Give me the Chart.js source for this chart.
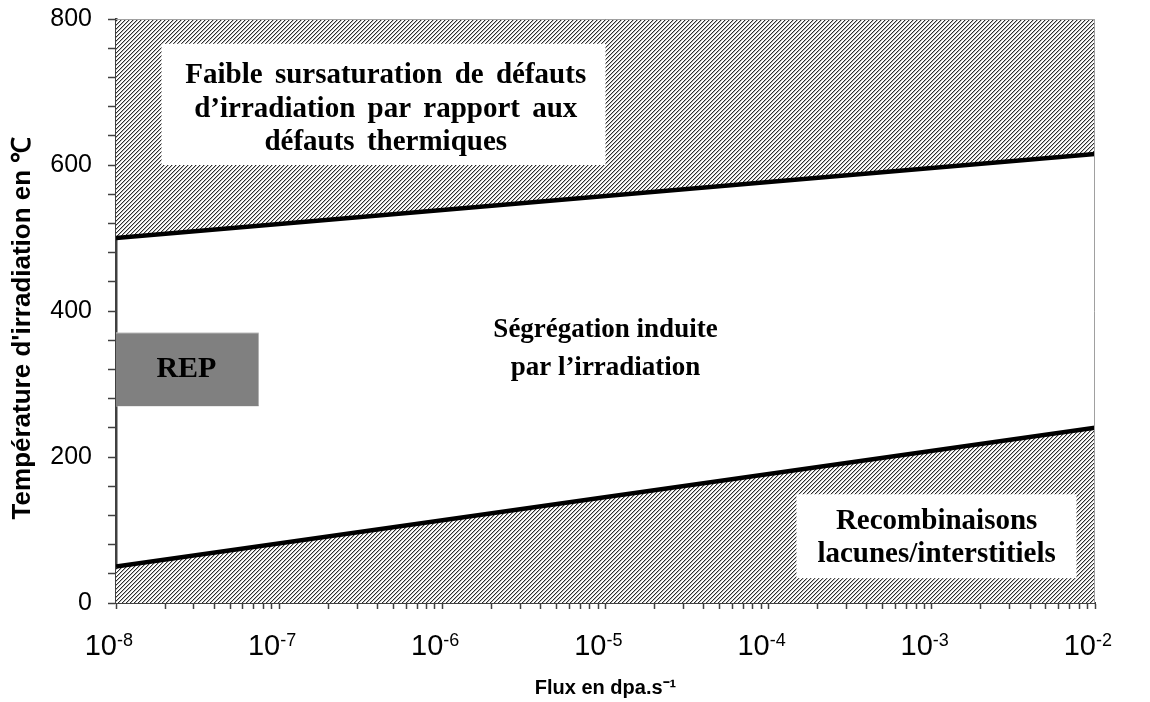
<!DOCTYPE html>
<html><head><meta charset="utf-8">
<script src="https://cdn.jsdelivr.net/npm/chart.js@4.4.1/dist/chart.umd.min.js"></script>
<style>html,body{margin:0;padding:0;background:#fff}#wrap{width:1150px;height:702px}</style>
</head><body><div id="wrap"><canvas id="c" width="1150" height="702"></canvas></div>
<script>
// ---- data ----
const xDecades = [1e-8, 1e-7, 1e-6, 1e-5, 1e-4, 1e-3, 1e-2];
const xExponents = ['-8', '-7', '-6', '-5', '-4', '-3', '-2'];
const minorMultipliers = [1, 2, 3, 4, 5, 6, 7, 8, 9];
const yTickValues = [0, 40, 80, 120, 160, 200, 240, 280, 320, 360, 400, 440, 480, 520, 560, 600, 640, 680, 720, 760, 800];
const yLabeled = [0, 200, 400, 600, 800];
const upperFlux = [1e-8, 1e-2];
const upperTemp = [500, 615];
const lowerFlux = [1e-8, 1e-2];
const lowerTemp = [50, 240];
const repFlux = [1e-8, 7.5e-8];
const repTempTop = [370, 370];
const repTempBottom = [270, 270];
const topText = ['Faible sursaturation de défauts', 'd\u2019irradiation par rapport aux', 'défauts thermiques'];
const midText = ['Ségrégation induite', 'par l\u2019irradiation'];
const lowText = ['Recombinaisons', 'lacunes/interstitiels'];
const repText = 'REP';
const yTitle = 'Température d\'irradiation en \u2103';
const xTitle = 'Flux en dpa.s\u207B\u00B9';

// hatch pattern
function makeHatch() {
  const t = document.createElement('canvas'); t.width = 4; t.height = 4;
  const g = t.getContext('2d'); const id = g.createImageData(4, 4);
  for (let y = 0; y < 4; y++) for (let x = 0; x < 4; x++) {
    const k = (x + y) % 4; let v = 255;
    if (k === 0) v = 45; else if (k === 1) v = 185;
    const i = (y * 4 + x) * 4; id.data[i] = id.data[i+1] = id.data[i+2] = v; id.data[i+3] = 255;
  }
  g.putImageData(id, 0, 0);
  return document.getElementById('c').getContext('2d').createPattern(t, 'repeat');
}
const hatch = makeHatch();
const pts = (xs, ys) => xs.map((x, i) => ({x, y: ys[i]}));

const SERIF = '"Liberation Serif", "Times New Roman", serif';
const SANS = '"Liberation Sans", Arial, sans-serif';

const overlay = {
  id: 'overlay',
  afterDatasetsDraw(chart) {
    const {ctx, scales: {x, y}, chartArea: a} = chart;
    ctx.save();
    ctx.fillStyle = '#fff';
    const box = (x0, x1, y0, y1) => {
      const l = x.getPixelForValue(x0), r = x.getPixelForValue(x1);
      const t = y.getPixelForValue(y1), b = y.getPixelForValue(y0);
      ctx.fillRect(l, t, r - l, b - t);
    };
    box(1.9e-8, 1e-5, 600, 766);
    box(1.48e-4, 7.7e-3, 34, 149);
    ctx.fillStyle = '#000';
    ctx.textAlign = 'center'; ctx.textBaseline = 'middle';
    const lines = (arr, xv, yvals) => arr.forEach((s, i) => ctx.fillText(s, x.getPixelForValue(xv), y.getPixelForValue(yvals[i])));
    ctx.font = 'bold 29px ' + SERIF;
    ctx.wordSpacing = '5px';
    lines(topText, 4.5e-7, [722, 676, 631]);
    ctx.wordSpacing = '0px';
    ctx.font = 'bold 27px ' + SERIF;
    lines(midText, 1e-5, [374, 322]);
    ctx.font = 'bold 29px ' + SERIF;
    lines(lowText, 1.07e-3, [112, 66]);
    ctx.font = 'bold 30px ' + SERIF;
    lines([repText], 2.7e-8, [320]);
    // plot frame top/right
    ctx.strokeStyle = '#a0a0a0'; ctx.lineWidth = 1;
    ctx.beginPath();
    ctx.moveTo(a.left, a.top + 0.5); ctx.lineTo(a.right - 0.5, a.top + 0.5); ctx.lineTo(a.right - 0.5, a.bottom);
    ctx.stroke();
    ctx.restore();
  },
  afterDraw(chart) {
    const {ctx, scales: {x, y}} = chart;
    ctx.save();
    ctx.fillStyle = '#000';
    ctx.textBaseline = 'alphabetic';
    xDecades.forEach((v, i) => {
      const px = x.getPixelForValue(v);
      ctx.font = '29px ' + SANS; ctx.textAlign = 'right';
      ctx.fillText('10', px + 1, 655);
      ctx.font = '18px ' + SANS; ctx.textAlign = 'left';
      ctx.fillText(xExponents[i], px + 1, 646);
    });
    // y title
    ctx.translate(23, 328);
    ctx.rotate(-Math.PI / 2);
    ctx.textAlign = 'center'; ctx.textBaseline = 'middle';
    ctx.font = 'bold 26px ' + SANS;
    ctx.fillText(yTitle, 0, 0);
    ctx.restore();
  }
};

new Chart(document.getElementById('c'), {
  type: 'line',
  data: {
    datasets: [
      { data: pts(upperFlux, upperTemp), borderColor: '#000', borderWidth: 4.5, pointRadius: 0, fill: 'end', backgroundColor: hatch, order: 1 },
      { data: pts(lowerFlux, lowerTemp), borderColor: '#000', borderWidth: 4.5, pointRadius: 0, fill: 'start', backgroundColor: hatch, order: 1 },
      { data: pts(repFlux, repTempTop), borderColor: '#c8c8c8', borderWidth: 1, pointRadius: 0, fill: '+1', backgroundColor: '#808080', order: 2 },
      { data: pts(repFlux, repTempBottom), borderColor: '#c8c8c8', borderWidth: 1, pointRadius: 0, fill: false, order: 2 }
    ]
  },
  options: {
    responsive: false, animation: false, devicePixelRatio: 1,
    layout: { padding: { left: 0, right: 55, top: 19, bottom: 0 } },
    plugins: { legend: { display: false }, tooltip: { enabled: false } },
    scales: {
      x: {
        type: 'logarithmic', min: 1e-8, max: 1e-2,
        afterBuildTicks: s => { const t = []; xDecades.forEach((d, i) => minorMultipliers.forEach(m => { if (i < xDecades.length - 1 || m === 1) t.push({value: d * m, major: m === 1}); })); s.ticks = t; },
        afterFit: s => { s.height = 99; s.paddingLeft = 0; s.paddingRight = 0; },
        ticks: { autoSkip: false, maxRotation: 0, callback: () => '', font: { size: 1 } },
        grid: { drawOnChartArea: false, drawTicks: true, tickLength: 6, tickColor: '#404040', tickWidth: 1.5 },
        border: { color: '#404040', width: 2 },
        title: { display: true, text: xTitle, color: '#000', font: { family: SANS, size: 20, weight: 'bold' }, padding: { top: 0, bottom: 2 } }
      },
      y: {
        type: 'linear', min: 0, max: 800,
        afterBuildTicks: s => { s.ticks = yTickValues.map(v => ({value: v})); },
        afterFit: s => { s.width = 116; s.paddingTop = 0; s.paddingBottom = 0; },
        ticks: { autoSkip: false, color: '#000', padding: 16, font: { family: SANS, size: 25 }, callback: v => yLabeled.includes(v) ? String(v) : '' },
        grid: { drawOnChartArea: false, drawTicks: true, tickLength: 8, tickColor: '#404040', tickWidth: 1.5 },
        border: { color: '#404040', width: 2.5 },
        title: { display: false }
      }
    }
  },
  plugins: [overlay]
});
</script></body></html>
